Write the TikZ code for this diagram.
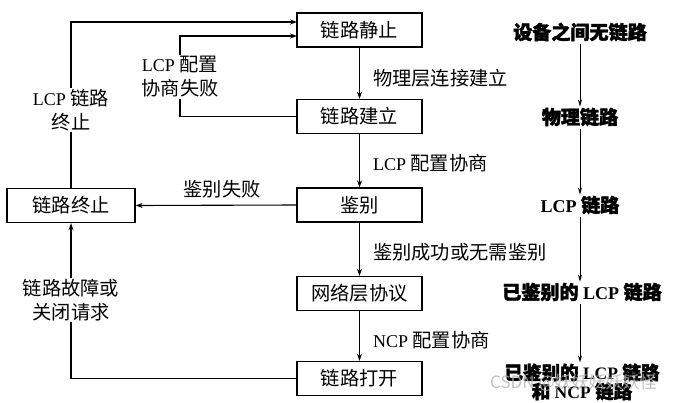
\documentclass[tikz,border=0pt]{standalone}
\usepackage{fontspec}
\setmainfont{Liberation Serif}
\newfontfamily\cjk[Scale=1.07]{Noto Sans CJK SC}
\newfontfamily\cjkb[Scale=1.06,FakeBold=2]{Noto Sans CJK SC}
\newfontfamily\wmfont{Noto Sans CJK SC}
\usetikzlibrary{arrows.meta}
\newcommand\zh[1]{{\cjk #1}}
\newcommand\zb[1]{{\cjkb #1}}
\begin{document}
\begin{tikzpicture}[x=1pt,y=-1pt,
  state/.style={draw, line width=1.3pt, minimum width=125pt, minimum height=34pt, inner sep=0pt, font=\fontsize{18}{20}\selectfont},
  lbl/.style={inner sep=1pt, font=\fontsize{18}{24}\selectfont, align=center},
  rlbl/.style={lbl, anchor=west},
  col/.style={inner sep=1pt, font=\bfseries\fontsize{18}{19}\selectfont, align=center},
  col2/.style={col, font=\bfseries\fontsize{17.5}{19}\selectfont},
  conn/.style={line width=1.1pt},
  arr/.style={conn, -{Stealth[length=7pt,width=5pt]}},
  colarr/.style={line width=0.9pt, -{Stealth[length=7pt,width=4pt]}},
  wmark/.style={text=gray!60, opacity=0.8, inner sep=0pt, font=\wmfont\fontsize{17}{20}\selectfont, anchor=west}
]
\useasboundingbox (0,0) rectangle (696,402);
\fill[white] (0,0) rectangle (696,402);
% states
\node[state] (s1) at (359.5,30) {\zh{链路静止}};
\node[state] (s2) at (359.5,116.5) {\zh{链路建立}};
\node[state] (s3) at (359.5,205) {\zh{鉴别}};
\node[state] (s4) at (359.5,293.5) {\zh{网络层协议}};
\node[state] (s5) at (359.5,378.5) {\zh{链路打开}};
\node[state, minimum width=128pt] (t) at (71,205.5) {\zh{链路终止}};
% main chain
\draw[arr] (s1) -- (s2);
\draw[arr] (s2) -- (s3);
\draw[arr] (s3) -- (s4);
\draw[arr] (s4) -- (s5);
\node[rlbl] (m1) at (372,78) {\zh{物理层连接建立}};
\node[rlbl] (m2) at (372,163) {LCP \zh{配置协商}};
\node[rlbl] (m3) at (372,252) {\zh{鉴别成功或无需鉴别}};
\node[rlbl] (m4) at (372,340) {NCP \zh{配置协商}};
% left loops
\coordinate (s1a) at (297,22);
\coordinate (s1b) at (297,36);
\node[lbl] (l1) at (71,110) {LCP \zh{链路}\\\zh{终止}};
\draw[conn] (t.north) -- (l1.south);
\draw[arr] (l1.north) |- (s1a);
\node[lbl] (l2) at (180,77) {LCP \zh{配置}\\\zh{协商失败}};
\draw[conn] (s2.west) -| (l2.south);
\draw[arr] (l2.north) |- (s1b);
\node[lbl] (l3) at (222,189) {\zh{鉴别失败}};
\draw[arr] (s3.west) -- (t.east);
\node[lbl] (l4) at (71,300) {\zh{链路故障或}\\\zh{关闭请求}};
\draw[conn] (s5.west) -| (l4.south);
\draw[arr] (l4.north) -- (t.south);
% right column
\node[col] (c1) at (580,32) {\zb{设备之间无链路}};
\node[col] (c2) at (580,117) {\zb{物理链路}};
\node[col] (c3) at (580,205) {LCP \zb{链路}};
\node[col] (c4) at (582,292) {\zb{已鉴别的} LCP \zb{链路}};
\node[col2] (c5) at (582,382) {\zb{已鉴别的} LCP \zb{链路}\\\zb{和} NCP \zb{链路}};
\draw[colarr] ([yshift=-2pt]c1.south) -- (c1.south |- c2.north);
\draw[colarr] ([yshift=-2pt]c2.south) -- (c2.south |- c3.north);
\draw[colarr] ([yshift=-2pt]c3.south) -- (c3.south |- c4.north);
\draw[colarr] ([yshift=-2pt]c3.south |- c4.south) -- (c3.south |- c5.north);
% watermark
\node[wmark] (wm) at (490,383) {CSDN @妖妖妖妖妖怪};
\end{tikzpicture}
\end{document}
